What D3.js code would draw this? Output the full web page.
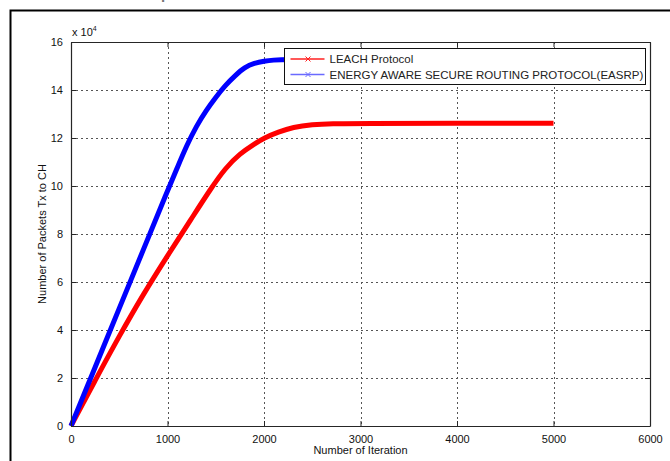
<!DOCTYPE html>
<html>
<head>
<meta charset="utf-8">
<script src="https://cdn.jsdelivr.net/npm/d3@7"></script>
<style>
  body { margin: 0; background: #fff; }
  svg { display: block; font-family: Arial, "Liberation Sans", sans-serif; }
</style>
</head>
<body>
<svg id="chart" width="670" height="461"></svg>
<script>
// values are in units of 10^4 packets
const leachIter = [0, 250, 500, 750, 1000, 1250, 1450, 1600, 1750, 1900, 2000, 2150, 2300, 2500, 2700, 3000, 4000, 5000];
const leachVals = [0, 1.9, 3.75, 5.5, 7.1, 8.65, 9.9, 10.75, 11.35, 11.75, 12.0, 12.25, 12.45, 12.56, 12.6, 12.61, 12.61, 12.61];

const easrpIter = [0, 250, 500, 750, 1000, 1100, 1200, 1300, 1400, 1500, 1600, 1700, 1800, 1900, 2000, 2100, 2200, 3000, 5000];
const easrpVals = [0, 2.45, 4.9, 7.35, 9.8, 10.75, 11.7, 12.5, 13.15, 13.7, 14.2, 14.6, 14.95, 15.12, 15.2, 15.25, 15.27, 15.28, 15.28];

const xTicks = [0, 1000, 2000, 3000, 4000, 5000, 6000];
const yTicks = [0, 2, 4, 6, 8, 10, 12, 14, 16];
const seriesNames = ["LEACH Protocol", "ENERGY AWARE SECURE ROUTING PROTOCOL(EASRP)"];

const svg = d3.select("#chart");
const plotL = 71, plotR = 650, plotT = 42, plotB = 426;

const x = d3.scaleLinear().domain([0, 6000]).range([plotL, plotR]);
const y = d3.scaleLinear().domain([0, 16]).range([plotB, plotT]);

// figure title, mostly cut off above the frame
svg.append("text")
  .attr("x", 228).attr("y", -1)
  .attr("text-anchor", "middle")
  .attr("font-size", 15).attr("font-weight", "bold")
  .attr("fill", "#777")
  .text("Performance comparison between LEACH and EASRP");

// outer frame (figure border)
svg.append("path")
  .attr("d", "M10.5,470V10.5H680")
  .attr("fill", "none").attr("stroke", "#000").attr("stroke-width", 2);

// grid
const grid = svg.append("g").attr("stroke", "#555").attr("stroke-dasharray", "2,3").attr("stroke-width", 1);
xTicks.slice(1, -1).forEach(t => {
  grid.append("line").attr("x1", Math.round(x(t)) + 0.5).attr("x2", Math.round(x(t)) + 0.5)
    .attr("y1", plotT).attr("y2", plotB);
});
yTicks.slice(1, -1).forEach(t => {
  grid.append("line").attr("y1", Math.round(y(t)) + 0.5).attr("y2", Math.round(y(t)) + 0.5)
    .attr("x1", plotL).attr("x2", plotR);
});

// series
const line = d3.line().x(d => x(d[0])).y(d => y(d[1])).curve(d3.curveBasis);
svg.append("path")
  .datum(d3.zip(leachIter, leachVals))
  .attr("d", line)
  .attr("fill", "none").attr("stroke", "#ff0000").attr("stroke-width", 5)
  .attr("stroke-linejoin", "round");
svg.append("path")
  .datum(d3.zip(easrpIter, easrpVals))
  .attr("d", line)
  .attr("fill", "none").attr("stroke", "#0000ff").attr("stroke-width", 5)
  .attr("stroke-linejoin", "round");

// axes (MATLAB style: inward ticks on all four sides)
const axisColor = "#262626";
const xAxis = svg.append("g").attr("transform", `translate(0,${plotB})`)
  .call(d3.axisBottom(x).tickValues(xTicks).tickFormat(d3.format("d")).tickSizeInner(-5).tickSizeOuter(0).tickPadding(9));
const yAxis = svg.append("g").attr("transform", `translate(${plotL},0)`)
  .call(d3.axisLeft(y).tickValues(yTicks).tickFormat(d3.format("d")).tickSizeInner(-5).tickSizeOuter(0).tickPadding(8));
const xTop = svg.append("g").attr("transform", `translate(0,${plotT})`)
  .call(d3.axisTop(x).tickValues(xTicks).tickSizeInner(-5).tickSizeOuter(0).tickFormat(""));
const yRight = svg.append("g").attr("transform", `translate(${plotR},0)`)
  .call(d3.axisRight(y).tickValues(yTicks).tickSizeInner(-5).tickSizeOuter(0).tickFormat(""));

[xAxis, yAxis, xTop, yRight].forEach(a => {
  a.selectAll("path").attr("stroke", axisColor).attr("stroke-width", 1.2);
  a.selectAll("line").attr("stroke", axisColor);
  a.selectAll("text").attr("fill", "#111").attr("font-size", 11)
    .attr("font-family", "Arial, 'Liberation Sans', sans-serif");
});

// exponent label
const ex = svg.append("text").attr("x", 72).attr("y", 36).attr("font-size", 11).attr("fill", "#111");
ex.append("tspan").text("x 10");
ex.append("tspan").attr("dy", -5).attr("font-size", 7).text("4");

// axis titles
svg.append("text")
  .attr("x", (plotL + plotR) / 2).attr("y", 454)
  .attr("text-anchor", "middle").attr("font-size", 11).attr("fill", "#111")
  .text("Number of Iteration");
svg.append("text")
  .attr("transform", `translate(46,${(plotT + plotB) / 2}) rotate(-90)`)
  .attr("text-anchor", "middle").attr("font-size", 11).attr("fill", "#111")
  .text("Number of Packets Tx to CH");

// legend
const lg = svg.append("g").attr("transform", "translate(284.5,48.5)");
lg.append("rect").attr("width", 361).attr("height", 36)
  .attr("fill", "#fff").attr("stroke", "#111").attr("stroke-width", 1);
const legendColors = ["#ff2020", "#6a6aff"];
seriesNames.forEach((name, i) => {
  const ly = 10.5 + i * 15.5;
  lg.append("line").attr("x1", 6).attr("x2", 40).attr("y1", ly).attr("y2", ly)
    .attr("stroke", legendColors[i]).attr("stroke-width", 1.5);
  lg.append("path").attr("d", `M21,${ly - 2.5}l5,5M26,${ly - 2.5}l-5,5`)
    .attr("stroke", legendColors[i]).attr("stroke-width", 1);
  lg.append("text").attr("x", 45).attr("y", ly + 4)
    .attr("font-size", 11.5).attr("fill", "#222").text(name);
});
</script>
</body>
</html>
